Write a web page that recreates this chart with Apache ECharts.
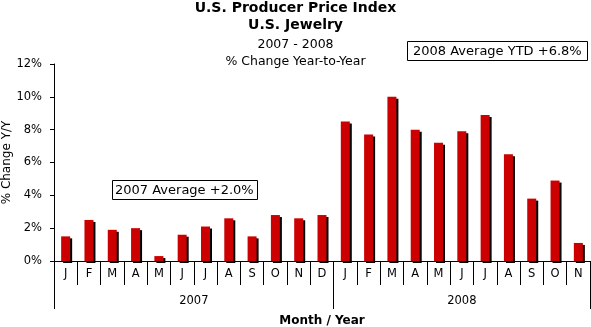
<!DOCTYPE html>
<html>
<head>
<meta charset="utf-8">
<script src="https://cdn.jsdelivr.net/npm/echarts@6/dist/echarts.min.js"></script>
<style>html,body{margin:0;padding:0;background:#fff}#c{width:591px;height:327px}</style>
</head>
<body>
<div id="c"></div>
<script>
var months2007 = ['J','F','M','A','M','J','J','A','S','O','N','D'];
var months2008 = ['J','F','M','A','M','J','J','A','S','O','N'];
var years = ['2007','2008'];
var values2007 = [1.5,2.5,1.9,2.0,0.3,1.6,2.1,2.6,1.5,2.8,2.6,2.8];
var values2008 = [8.5,7.7,10.0,8.0,7.2,7.9,8.9,6.5,3.8,4.9,1.1];
var yTicks = [0,2,4,6,8,10,12];
var titleLines = ['U.S. Producer Price Index','U.S. Jewelry','2007 - 2008','% Change Year-to-Year'];
var note2007 = '2007 Average +2.0%';
var note2008 = '2008 Average YTD +6.8%';

var categories = months2007.concat(months2008);
var values = values2007.concat(values2008);
var n = categories.length;
var b1 = months2007.length;
var font = 'DejaVu Sans, Verdana, sans-serif';

var chart = echarts.init(document.getElementById('c'), null, {renderer:'canvas'});
chart.setOption({
  animation:false,
  backgroundColor:'#fff',
  title:[
    {text:titleLines[0], left:'center', top:0, padding:0, textStyle:{fontFamily:font,fontSize:14,fontWeight:'bold',color:'#000',lineHeight:16}},
    {text:titleLines[1], left:'center', top:17, padding:0, textStyle:{fontFamily:font,fontSize:14,fontWeight:'bold',color:'#000',lineHeight:16}},
    {text:titleLines[2], left:'center', top:38, padding:0, textStyle:{fontFamily:font,fontSize:12.5,fontWeight:'normal',color:'#000',lineHeight:14}},
    {text:titleLines[3], left:'center', top:55, padding:0, textStyle:{fontFamily:font,fontSize:12.5,fontWeight:'normal',color:'#000',lineHeight:14}},
    {text:note2007, left:112, top:180, padding:[4,4,3,3], borderColor:'#000', borderWidth:1, backgroundColor:'#fff', textStyle:{fontFamily:font,fontSize:13,fontWeight:'normal',color:'#000'}},
    {text:note2008, left:407, top:41, padding:[4,6,3,6], borderColor:'#000', borderWidth:1, backgroundColor:'#fff', textStyle:{fontFamily:font,fontSize:13,fontWeight:'normal',color:'#000'}}
  ],
  grid:{left:54, right:1, top:64, bottom:66, containLabel:false, outerBoundsMode:'none'},
  xAxis:[
    {type:'category', data:categories, position:'bottom', boundaryGap:true,
     axisLine:{show:true, lineStyle:{color:'#000', width:1}},
     axisTick:{show:true, interval:0, length:24, lineStyle:{color:'#000'}},
     axisLabel:{interval:0, margin:7, fontFamily:font, fontSize:11.5, color:'#000'},
     splitLine:{show:false}},
    {type:'value', position:'bottom', offset:24, min:0, max:n,
     axisLine:{show:false},
     axisTick:{show:true, length:24, customValues:[0,b1,n], lineStyle:{color:'#000'}},
     axisLabel:{show:true, customValues:[b1/2, b1+(n-b1)/2], margin:10, fontFamily:font, fontSize:11.5, color:'#000',
       formatter:function(v){return v < b1 ? years[0] : years[1];}},
     splitLine:{show:false},
     name:'Month / Year', nameLocation:'middle', nameGap:30, nameMoveOverlap:false,
     nameTextStyle:{fontFamily:font, fontSize:12, fontWeight:'bold', color:'#000'}}
  ],
  yAxis:{type:'value', min:yTicks[0], max:yTicks[yTicks.length-1], interval:yTicks[1]-yTicks[0],
    axisLine:{show:true, lineStyle:{color:'#000'}},
    axisTick:{show:true, length:4, lineStyle:{color:'#000'}},
    axisLabel:{formatter:'{value}%', margin:12, fontFamily:font, fontSize:11.5, color:'#000'},
    splitLine:{show:false},
    name:'% Change Y/Y', nameLocation:'middle', nameGap:41, nameRotate:90, nameMoveOverlap:false,
    nameTextStyle:{fontFamily:font, fontSize:12, color:'#000'}},
  series:[{type:'bar', data:values, xAxisIndex:0, barWidth:9,
    itemStyle:{color:'#cc0000', shadowColor:'#000', shadowOffsetX:2, shadowOffsetY:2, shadowBlur:0}}]
});
</script>
</body>
</html>
